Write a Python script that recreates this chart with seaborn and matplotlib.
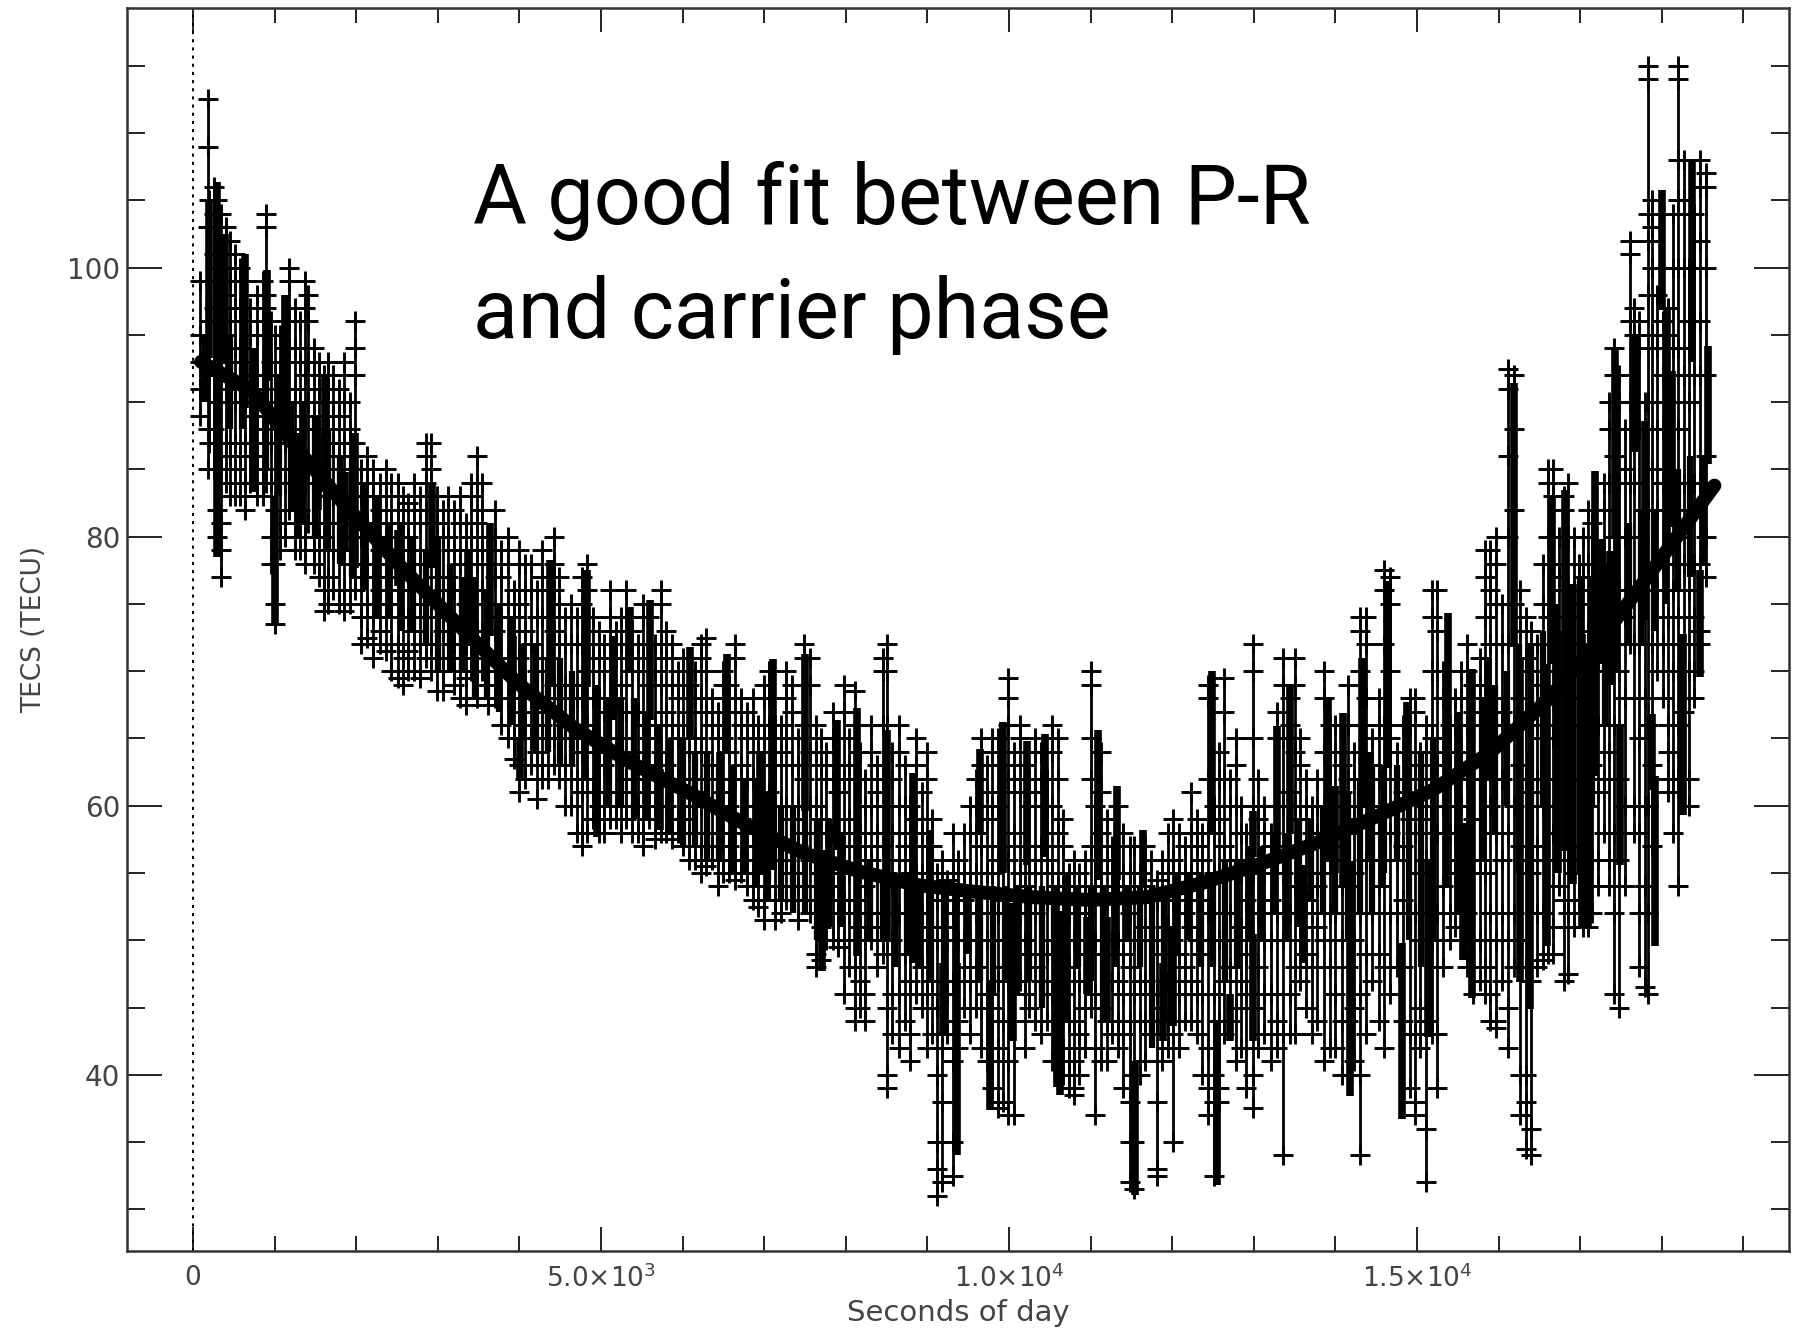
import matplotlib
matplotlib.use("Agg")
import matplotlib.pyplot as plt
from matplotlib.ticker import MultipleLocator, FixedLocator
import pandas as pd
import seaborn as sns

TITLE_LINES = ["A good fit between P-R", "and carrier phase"]
X_LABEL = "Seconds of day"
Y_LABEL = "TECS (TECU)"
X_TICKS = [0, 5000, 10000, 15000]
X_TICK_LABELS = ["0", "5.0×10$^{3}$", "1.0×10$^{4}$", "1.5×10$^{4}$"]
Y_TICKS = [40, 60, 80, 100]

phase_sec = [98, 731, 1293, 1855, 2557, 3260, 3962, 4665, 5367, 6070, 6772, 7475, 8177, 8880, 9582,
             10285, 10987, 11690, 12392, 13095, 13797, 14500, 15202, 15905, 16607, 17310, 17872, 18645]
phase_tec = [93.0, 90.8, 86.4, 82.4, 77.7, 73.4, 69.2, 65.8, 63.2, 61.0, 58.6, 56.5, 55.1, 54.1, 53.6,
             53.2, 53.0, 53.2, 54.3, 55.7, 57.3, 59.2, 61.2, 64.0, 67.9, 72.8, 77.4, 83.8]

sec_a = [80,180,200,260,300,340,400,450,520,580,640,700,780,860,900,960,1010,1070,1130,1180,1250,1310,1370,1410,1480,1540,1600,1660,1720,1790,1850,1920,1990]
tec_a = [[99,95,93,91,89],[112.5,109,103,99,93,88,85],[105,103,99,96,92,87],[106,104,101,97,93,88,85],[105,103,99,96,90,82,80],
         [104,100,96,92,85,81,79,77],[103,101,98,95,91,87,84],[102,99,96,93,90,86,83],[101,99,97,94,90,87,85,83],[100,97,94,90,86,83],
         [99,96,93,90,87,84,82],[97,95,92,89,86,84],[98,95,92,89,86,83],[99,96,92,88,85,83],[104,103,98,97,91,87,84],
         [96,93,90,87,84,80,78],[95,92,88,82,78,75,73.5],[95,92,89,85,81,79],[96,94,90,87,84,80],[100,99,96,94,89,85,82],
         [97,94,91,87,84,81,79],[96,93,90,86,82,79],[99,97,92,88,84,80,78],[98,96,93,90,85,81],[94,92,89,85,81,79,78],
         [93,91,88,84,80,77],[92,90,86,83,80,76,74.5],[93,91,88,85,81,77,75],[92,89,87,83,79,76],[91,89,86,83,79,75],
         [93,90,87,83,79,76,74.5],[90,88,85,81,78,75],[96,94,92,87,85,80,76]]

sec_b = [2060,2130,2210,2290,2360,2430,2510,2570,2640,2710,2780,2860,2920,2990,3060,3130,3200,3270,3340,3410,3480,3540,3620,3700,3780,3860,3930]
tec_b = [[85,83,80,77,74,72],[86,84,81,78,75,72.5],[85,83,80,77,74,71],[84,82,79,76,73,72],[85,83,80,77,74,71.5],
         [84,81,78,75,72,70],[84,82,79,76,72,69.5],[83,81,78,74,71,69],[82.5,80,77,74,71.5,70],[84,82,79,76,73,70],
         [83,81,78,75,72,69.5],[87,86,84,82,78,74,71],[87,85,83,79,75,72,70],[83,81,77,74,71,68.5],[82,80,76,73,70,68.5],
         [83,80,77,74,71],[82,79,76,72,70,69],[83,81,78,74,71,68],[81,79,75,72,69.5,67.5],[84,83,80,76,72,70],
         [86,84,81,78,73,70,68],[84,82,79,76,73,70],[80,78,75,71,69,67.5],[82,80,77,73,70,68],[79,77,74,71,68,66],
         [80,78,75,71,68,65],[76,74,71,68,65,63.5]]

sec_c = [4000,4070,4140,4210,4280,4350,4420,4490,4560,4630,4700,4770,4830,4900,4970,5040,5110,5180,5250,5310,5380,5450,5520,5590,5660,5730,5800,5870,5940]
tec_c = [[79,78,75,71,67,63,61],[78,76,73,69,66,62],[78,76,72,68,65,63],[76,74,70,67,64,60.5],[79,77,74,70,66,63,62],
         [76,74,71,68,65,62],[80,78,76,73,69,65,63],[77,75,72,68,65,62],[74,72,69,66,63,60],[75,72,69,66,62,60],
         [74,72,68,65,62,58],[77,75,72,68,64,61,58,57],[78,76,74,70,66,62,58],[74,71,68,65,61,59],[73,71,68,64,60,58],
         [72,70,67,63,60,58],[76,74,72,68,64,61,59],[73,71,68,64,60,59],[74,72,69,65,61,58],[76,74,71,67,62,59],
         [73,70,67,64,60,58],[72,70,67,63,60,58],[75,74,71,66,62,58,57],[74,72,69,65,61,59],[72,70,66,63,60,57.5],
         [76,75,72,69,64,60,58],[73,71,67,63,60,58],[72,69,66,62,58,57.5],[70,68,65,62,59,58]]

sec_d = [6010,6080,6150,6220,6290,6360,6430,6500,6570,6640,6710,6790,6860,6930,7000,7060,7130,7200,7270,7340,7410,7490,7560,7630,7690,7760,7840,7910,7980,8040]
tec_d = [[71,69,66,62,59,57],[69,67,64,60,58,56],[70,68,65,61,58,56],[72,71,68,64,60,57,55],[72.5,70,67,62,58,55.5],
         [68,66,63,60,57,56],[67,65,62,58,56,54],[70,69,65,61,58,55],[69,67,64,60,57,55],[72,71,68,62,58,56,54.5],
         [68,66,63,59,56,55],[67,65,62,58,56,54],[68,66,62,58,55,53],[66,64,60,57,55,52.5],[69,68,65,60,56,53,51.5],
         [70,68,66,61,57,54],[66,63,60,56,53,51.5],[66,64,60,57,54,52],[70,68,65,60,56,53],[69,67,63,59,55,53],
         [65,63,60,57,54,51.5],[72,71,66,62,58,54],[71,69,64,60,56,52],[66,64,60,56,53,49,48],[65,63,59,55,51,48.5],
         [64,62,58,55,53,50],[67,65,62,58,54,50],[63,61,58,55,52,49.5],[69,67,62,57,53,50,46],[65,63,59,55,52,48]]

sec_e = [8110,8170,8240,8310,8380,8450,8500,8570,8650,8720,8790,8860,8930,9000,9060,9120,9180,9240,9310,9380,9450,9520,9600,9660,9730,9790,9860,9930,9990]
tec_e = [[68.5,66,62,58,53,48,45,44],[64,62,58,55,51,47,45],[62,60,57,54,50,46,44],[66,64,60,56,52,50],[63,61,58,55,51,48],
         [71,70,66,62,57,52,49],[72,70,66,60,55,50,45,40,39],[64,62,58,54,50,46,43],[66,64,60,56,52,46,42],[63,60,57,54,49,44],
         [60,58,55,52,47,43,41],[65,63,59,55,51,46],[61,58,55,52,48,45],[64,62,57,54,50,46,42],[59,57,54,51,47,43],
         [55,53,50,45,40,35,33,31],[56,54,51,47,42,38,32],[54.5,53,50,46,43],[58,55,52,47,41,35,32.5],[56,53,50,47,44,42],
         [58,55,53,50,48,45],[60,58,54,50,47,43],[62,60,58,55,52,48,45],[65,63,60,57,50,45,42],[63,61,59,55,50,46,41],
         [65,64,60,55,50,45,39],[65,60,56,52,47,42,38,37.5],[63,61,57,53,48,44,38],[69.5,68,66,62,56,52,47,41,37]]

sec_f = [10060,10130,10190,10250,10320,10390,10460,10530,10600,10660,10730,10800,10860,10930,11000,11060,11130,11200,11260,11330,11400,11480,11530,11600,11670,11740,11810,11880,11950]
tec_f = [[64,62,58,53,47,44,37],[66,65,61,55,52,47],[63,61,57,54,50,46,42],[62,60,56,53,49,45],[65,64,61,55,52,48,44],
         [64,62,57,53,47,43],[62,60,56,53,49,44],[66,64,60,55,50,46,41],[65,62,58,54,50,46],[59,57,54,50,46,42,40],
         [55,54,52,48,44,41,39],[56,53,50,47,44,41,39,38.5],[55,53,50,47,43,40],[56,54,52,49,45,42],[70,69,65,62,57,53,49,45],
         [60,57,54,50,46,42,37],[64,61,58,54,50,45,41],[59,56,53,49,44,41],[57,55,53,50,47,43],[60,57,54,50,47,44,42],
         [58,55,53,49,46,43,39],[57,55,52,48,44,38,35,32],[57,54,50,46,40,35,31.5],[55,53,50,47,44,40],[57,54,51,47,44,41],
         [56,53,50,46,43],[54.5,53,50,46,44,38,33,32.5],[56,53,49,45,41],[58,55,51,47,44,42]]

sec_g = [12010,12080,12160,12230,12300,12370,12440,12510,12570,12640,12710,12780,12840,12910,12990,13050,13130,13210,13290,13360,13440,13510,13570,13640,13710,13780,13860,13930]
tec_g = [[59,56,53,50,47,43,35],[58,55,53,49,46,42],[57,55,52,48,44],[61,58,55,51,47,44],[59,57,54,50,46,43],
         [58,56,53,49,46,40],[69,68,62,58,52,42,39,37],[60,58,55,50,46,40,38,32.5],[64,62,59,55,50,44,39,38],[69.5,67,62,57,52,47,43],
         [62,60,56,52,48,44],[65,63,60,55,50,45,41],[60,58,55,51,47,42],[58,56,53,49,46,39],[72,70,65,60,55,50,45,40,37.5],
         [62,59,56,52,48,42],[60,58,55,50,46,43],[58,57,53,50,46,41],[67,65,60,56,52,44,42],[71,69,65,60,55,50,43,34],
         [68,66,61,57,52,46,43],[71,69,64,60,54,48,43],[65,63,59,54,50,47],[62,60,57,53,49,45],[60,58,55,52,48,43],
         [62,60,58,54,51,44],[70,68,64,60,55,50,41],[66,64,60,56,52,48,42]]

sec_h = [14000,14080,14160,14230,14300,14370,14450,14530,14600,14670,14750,14830,14910,14970,15040,15110,15180,15240,15320,15400,15470,15540,15610,15690,15770,15830,15900,15970]
tec_h = [[66,64,60,57,52,46,42],[63,61,58,54,50,44,40],[69,66,62,58,54,48,44,40],[64,62,59,55,50,45,41],[74,73,70,66,60,52,46,40,34],
         [74,72,68,62,56,49,43],[65,63,60,56,52,47],[68,66,62,58,54,49,44],[77.5,76,72,66,60,56,48,42],[77,75,70,65,58,52,46],
         [64,62,60,56,52,48],[66,64,61,57,53,48,44],[68,66,62,59,52,43,39],[68,67,63,58,52,43,38,37],[64,62,59,55,50,45,42],
         [66,64,60,56,50,44,36,32],[76,74,70,65,58,50,43],[76,73,70,63,58,52,43,39],[70,68,64,60,54,48],[66,64,62,58,52,50],
         [68,66,62,58,55,51],[70,68,64,60,56,50],[72,70,66,62,56,52,48],[69,67,63,59,55,50,46],[71,69,66,62,56,50,47],
         [79,77,74,68,62,55,48,46],[79,76,72,66,60,52,46,44],[80,78,75,68,62,58,50,44,43.5]]

sec_i = [16040,16120,16190,16260,16330,16400,16470,16540,16610,16670,16740,16800,16850,16920,16990]
tec_i = [[75,72,67,62,56,52,47],[92.5,91,86,80,72,66,58,50,45,42],[92,88,82,75,66,60,52,48],[76,73,68,63,57,50,40,37],
         [74,71,67,62,56,48,40,38,34.5],[73,70,66,61,55,47,36,34],[72,69,66,62,57,52,48],[78,75,70,65,60,52,48.5],
         [85,84,80,74,68,62,56,49],[85,83,78,72,65,58,51,49],[80,77,72,66,60,54],[83,82,76,70,64,58,53,47],
         [84,80,74,68,62,56,52,47.5],[80,76,72,68,62,55,51],[78,75,70,66,62,57,53]]

sec_j = [17040,17090,17150,17220,17290,17350,17410,17480,17550,17610,17660,17720,17790,17830,17880,17940,18010,18080,18140,18200,18270,18330,18400,18470,18540]
tec_j = [[80,77,72,68,62,56,51],[82,78,73,67,60,54,51],[81,76,70,63,56,52],[76,74,71,66,61,56,54],[84,82,76,70,62,58],
         [90,88,84,78,72,64,56,54],[94,92,86,80,72,66,58,52,46],[92,90,84,76,70,62,56,45],[88,85,80,74,68,60,54],
         [102,101,96,90,84,76,72],[97,95,90,84,76,72,60,58],[96,94,88,80,72,65,58,52,48],[90,88,82,76,68,60,54,46.5],
         [115,114,104,102,98,90,82,66,60,52,46],[105,103,100,95,85,72,63,57],[98,94,88,82,76,70],[96,92,88,84,78,72,68],
         [97,95,90,84,74,66,64,62,61],[104,100,94,88,76,70,62,58],[115,114,108,105,100,94,88,80,74,66,62,54],
         [108,105,100,92,84,78,72,67],[100,96,90,82,76,70,62,60],[104,100,92,84,78,74,70,68],
         [108,106,102,96,92,84,78,73,72],[107,106,100,92,86,80,77]]

# Solid black columns, where many readings overlap (seconds, upper TEC, lower TEC)
solid_sec_1 = [190,290,290,392,637,907,1127,735,1287,1005,1617,1532,1985,1863,2512,2929,3370,3640,3920,4375,4830,4007,5147,5355,5600,6090,6544,5723,6458,7108,4951,6950]
solid_top_1 = [105,106.4,90,102.5,101,99.8,98,92,87.7,83,92,87.7,87.7,84.8,80.5,84,79,81,72.6,78.3,77.5,65,72.6,74.8,75.3,71.8,71.3,62.7,64,70.9,64,64]
solid_bot_1 = [93.3,84.8,78.5,93,89.6,91.6,87.7,83.3,80,73.4,83.3,82,77.7,79,76.3,77.7,72,72.6,68.8,68.8,68.8,62,66.4,70,66.4,65,64,58.2,56.5,55.2,57.7,55]

solid_sec_2 = [7500,7708,7892,8137,8505,8824,9032,9191,9363,9767,10049,9927,9644,10220,10588,10441,10625,11090,11323,10956,11200,11544,11642,12010,11887,12488,12549,12708,13284,13443,12990,12990,13603,13995]
solid_top_2 = [71.3,56.7,66.4,67.3,65.6,62.4,58.2,48.3,48.3,46.8,52.8,66.2,64.2,64.8,51,65.3,52.2,65.6,61.5,51.7,51.7,41,58.2,51,48.3,70,44,46,65.9,69,59.6,50.5,55.6,61.5]
solid_bot_2 = [59.6,47.7,56.7,48.8,50,48.3,48.8,43,34,37.4,42.5,55,58,55.6,39.1,56.2,38.5,54.5,54.5,46,44,31.1,53.9,43.6,42.5,57.9,31.8,42.5,56.7,57.9,56.2,42.5,48.3,55]

solid_sec_3 = [13910,14093,14179,14326,14424,14645,14571,14877,14816,15135,15380,15674,15564,15870,15809,16190,16262,16385,16592,16654,16730,16810,16912,17020,17095,17185,17270,17365,17426,17488,17672,17794,17880,17917,18000,18120,18070,18260,18370,18468,18566]
solid_top_3 = [68,66.9,55.9,71,64,76.7,60,67.7,49.8,55.9,74.3,70.2,58.7,71,62,91.4,71,64,70.5,83,73,83.5,76.5,72.8,72,84.9,79.8,78.9,94,65.9,95,88.6,66.8,62.2,105.8,92.3,97,72.8,108,77.5,94.2]
solid_bot_3 = [56,53.9,38.4,60,55.9,62.8,53.9,60.8,36.7,42.8,62,45.7,48.5,62,55.9,71.8,46.9,44.9,49.6,70.5,55,56.6,54.2,51,51,62.2,70.5,69,79.8,55.6,86.3,73.8,61.2,49.6,97,80.7,79.8,59.3,93,69.6,85.4]

# Dark band of overlapping readings that hugs the carrier-phase curve
band_sec_1 = [150,300,450,600,750,900,1050,1200,1350,1500,1650,1800,1950,2100,2250,2400,2550,2700,2850,3000,3150,3300,3450,3600,3750,3900,4050,4200,4350,4500,4650,4800,4950,5100,5250,5400,5550,5700,5850,6000,6150,6300,6450,6600,6750,6900,7050,7200,7350,7500,7650,7800,7950]
band_top_1 = [95,96,95,94,94,94,92,90,90,89,88,86,86,84,83,81,81,80,79,80,78,77,77,76,75,74,72,72,71,71,70,70,69,68,68,68,67,66,65,65,64,64,63,63,62,62,61,60,60,60,59,59,58]
band_bot_1 = [90,88,88,88,86,85,83,82,81,80,79,78,77,76,74,74,73,73,72,70,70,70,68,68,67,66,65,64,64,63,63,62,61,60,60,59,59,59,58,57,57,56,56,55,55,54,53,53,52,52,50,51,51]

band_sec_2 = [8150,8300,8450,8600,8750,8900,9050,9200,9350,9500,9650,9800,9950,10100,10250,10400,10550,10700,10850,11000,11150,11300,11450,11600,11750,11900,12050,12200,12350,12500,12650,12800,12950]
band_top_2 = [57,56,55,55,55,54,54,54,54,54,54,54,54,54,54,54,54,55,54,54,54,55,54,54,54,54,55,55,55,55,56,56,57]
band_bot_2 = [50,50,50,48,49,48,47,48,46,49,47,46,47,46,47,45,49,44,48,47,44,48,50,48,42,44,49,50,48,48,47,48,50]

band_sec_3 = [13100,13250,13400,13550,13700,13850,14000,14150,14300,14450,14600,14750,14900,15050,15200,15350,15500,15650,15800,15950,16100,16250,16400,16550,16700,16850,17000,17150,17300,17450,17600,17750,17900,18050,18200,18350,18500]
band_top_3 = [57,58,58,59,59,60,60,61,62,63,63,63,64,64,65,66,67,67,68,69,70,72,72,73,75,76,77,77,78,80,81,82,82,84,85,86,86]
band_bot_3 = [50,52,50,51,53,52,52,50,52,52,55,56,50,48,50,54,52,50,56,58,60,55,52,60,62,58,55,60,66,70,72,72,73,75,76,77,78]

sections = [(sec_a, tec_a), (sec_b, tec_b), (sec_c, tec_c), (sec_d, tec_d), (sec_e, tec_e),
            (sec_f, tec_f), (sec_g, tec_g), (sec_h, tec_h), (sec_i, tec_i), (sec_j, tec_j)]

points = pd.DataFrame(
    [(s, v) for secs, tecs in sections for s, vals in zip(secs, tecs) for v in vals],
    columns=["sec", "tec"])
span = points.groupby("sec")["tec"].agg(["min", "max"]).reset_index()
phase = pd.DataFrame({"sec": phase_sec, "tec": phase_tec})

sns.set_theme(style="white")
plt.rcParams["font.family"] = ["DejaVu Sans"]
plt.rcParams["mathtext.default"] = "regular"

W, H = 1799, 1330
fig = plt.figure(figsize=(W / 100, H / 100), dpi=100, facecolor="white")
ax = fig.add_axes([127 / W, 1 - 1251 / H, (1789 - 127) / W, (1251 - 8) / H])

ax.vlines(span["sec"], span["min"], span["max"], colors="black", linewidth=2.0, zorder=2)
sns.scatterplot(data=points, x="sec", y="tec", marker="+", s=200, color="black",
                linewidth=2.1, ax=ax, zorder=3, legend=False)
for s, t, b in ((solid_sec_1, solid_top_1, solid_bot_1),
                (solid_sec_2, solid_top_2, solid_bot_2),
                (solid_sec_3, solid_top_3, solid_bot_3)):
    ax.vlines(s, b, t, colors="black", linewidth=5.5, zorder=3)
for s, t, b in ((band_sec_1, band_top_1, band_bot_1),
                (band_sec_2, band_top_2, band_bot_2),
                (band_sec_3, band_top_3, band_bot_3)):
    ax.vlines(s, b, t, colors="black", linewidth=4.5, zorder=3)
sns.lineplot(data=phase, x="sec", y="tec", color="black", linewidth=10, ax=ax, zorder=4,
             sort=False, errorbar=None, legend=False)
ax.axvline(0, color="black", linewidth=1.4, dashes=(1.6, 2.6), zorder=1)

ax.set_xlim(-809, 19559)
ax.set_ylim(26.9, 119.3)
ax.xaxis.set_major_locator(FixedLocator(X_TICKS))
ax.set_xticklabels(X_TICK_LABELS)
ax.xaxis.set_minor_locator(MultipleLocator(1000))
ax.yaxis.set_major_locator(FixedLocator(Y_TICKS))
ax.yaxis.set_minor_locator(MultipleLocator(5))

dark = "#222222"
label_grey = "#444444"
ax.tick_params(axis="x", which="major", direction="in", length=17, width=1.4, color=dark,
               top=True, bottom=True, labelsize=19, labelcolor=label_grey, pad=10)
ax.tick_params(axis="x", which="minor", direction="in", length=11, width=1.4, color=dark, top=True, bottom=True)
ax.tick_params(axis="y", which="major", direction="in", length=25, width=1.4, color=dark,
               left=True, right=True, labelsize=20, labelcolor=label_grey, pad=5)
ax.tick_params(axis="y", which="minor", direction="in", length=13, width=1.4, color=dark, left=True, right=True)
for spine in ax.spines.values():
    spine.set_color("#333333")
    spine.set_linewidth(1.8)

ax.set_xlabel(X_LABEL, fontsize=21, color=label_grey, labelpad=4)
ax.set_ylabel(Y_LABEL, fontsize=19, color=label_grey, labelpad=14)

for line, y_px in zip(TITLE_LINES, (224, 338)):
    fig.text(473 / W, 1 - y_px / H, line, fontsize=59.5, color="black", family="Roboto",
             ha="left", va="baseline")

fig.savefig("out.png", dpi=100)
